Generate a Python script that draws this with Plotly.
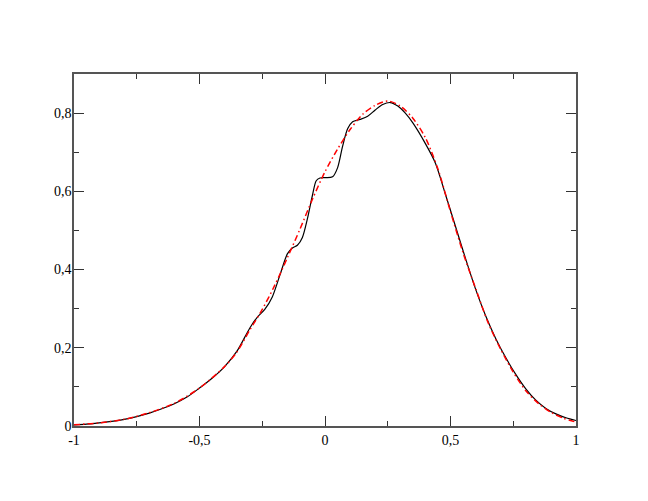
import plotly.graph_objects as go

# Solid black curve
x_black = [-1.0, -0.95, -0.9, -0.85, -0.8, -0.75, -0.7, -0.65, -0.6, -0.55, -0.5, -0.45,
           -0.4, -0.35, -0.3, -0.27, -0.24, -0.21, -0.18, -0.15, -0.13, -0.11, -0.09,
           -0.07, -0.05, -0.035, -0.02, 0.0, 0.03, 0.05, 0.07, 0.09, 0.11, 0.14, 0.17,
           0.2, 0.23, 0.26, 0.29, 0.32, 0.35, 0.40, 0.44, 0.48, 0.52, 0.56, 0.60,
           0.64, 0.68, 0.72, 0.76, 0.80, 0.84, 0.88, 0.92, 0.96, 1.0]
y_black = [0.003, 0.005, 0.008, 0.012, 0.017, 0.024, 0.033, 0.044, 0.057, 0.074, 0.097, 0.122,
           0.152, 0.192, 0.25, 0.278, 0.298, 0.33, 0.385, 0.44, 0.455, 0.462, 0.482,
           0.53, 0.59, 0.627, 0.634, 0.635, 0.637, 0.66, 0.715, 0.76, 0.778, 0.784, 0.792,
           0.808, 0.822, 0.827, 0.818, 0.8, 0.775, 0.722, 0.672, 0.592, 0.510, 0.428, 0.350,
           0.282, 0.224, 0.175, 0.132, 0.095, 0.066, 0.045, 0.031, 0.021, 0.014]

# Dash-dot red curve
x_red = [-1.0, -0.9, -0.8, -0.7, -0.6, -0.5, -0.4, -0.35, -0.3, -0.25, -0.2, -0.15,
         -0.1, -0.05, 0.0, 0.05, 0.1, 0.15, 0.2, 0.25, 0.3, 0.35, 0.4, 0.45, 0.5,
         0.55, 0.6, 0.65, 0.7, 0.75, 0.8, 0.85, 0.9, 0.95, 1.0]
y_red = [0.003, 0.008, 0.017, 0.034, 0.058, 0.097, 0.152, 0.19, 0.245, 0.298, 0.36, 0.43,
         0.503, 0.58, 0.65, 0.708, 0.758, 0.797, 0.82, 0.831, 0.818, 0.787, 0.737, 0.657, 0.548,
         0.443, 0.352, 0.264, 0.196, 0.138, 0.09, 0.058, 0.035, 0.02, 0.01]

x_tickvals = [-1, -0.5, 0, 0.5, 1]
x_ticktext = ["-1", "-0,5", "0", "0,5", "1"]
y_tickvals = [0, 0.2, 0.4, 0.6, 0.8]
y_ticktext = ["0", "0,2", "0,4", "0,6", "0,8"]

fig = go.Figure()
fig.add_trace(go.Scatter(x=x_black, y=y_black, mode="lines",
                         line=dict(color="black", width=1.2, shape="spline", smoothing=0.8)))
fig.add_trace(go.Scatter(x=x_red, y=y_red, mode="lines",
                         line=dict(color="red", width=1.5, shape="spline", smoothing=0.8,
                                   dash="6px,3px,1.5px,3px")))

axis_common = dict(
    showgrid=False, zeroline=False, showline=True, linecolor="#555555", linewidth=1.5,
    mirror="allticks", ticks="inside", ticklen=10, tickwidth=1.2, tickcolor="#333333",
    tickfont=dict(family="Liberation Serif, Times New Roman, serif", size=14, color="black"),
)

fig.update_xaxes(range=[-1, 1], tickvals=x_tickvals, ticktext=x_ticktext, ticklabelstandoff=0,
                 minor=dict(ticks="inside", ticklen=5, tickwidth=1.2, tickcolor="#333333", dtick=0.25, tick0=0),
                 **axis_common)
fig.update_yaxes(range=[0, 0.9], tickvals=y_tickvals, ticktext=y_ticktext, ticklabelstandoff=-2,
                 minor=dict(ticks="inside", ticklen=5, tickwidth=1.2, tickcolor="#333333", dtick=0.1, tick0=0),
                 **axis_common)

fig.update_layout(width=640, height=493, showlegend=False,
                  margin=dict(l=66, r=72, t=66, b=75),
                  plot_bgcolor="white", paper_bgcolor="white")

fig.write_html("out.html")
